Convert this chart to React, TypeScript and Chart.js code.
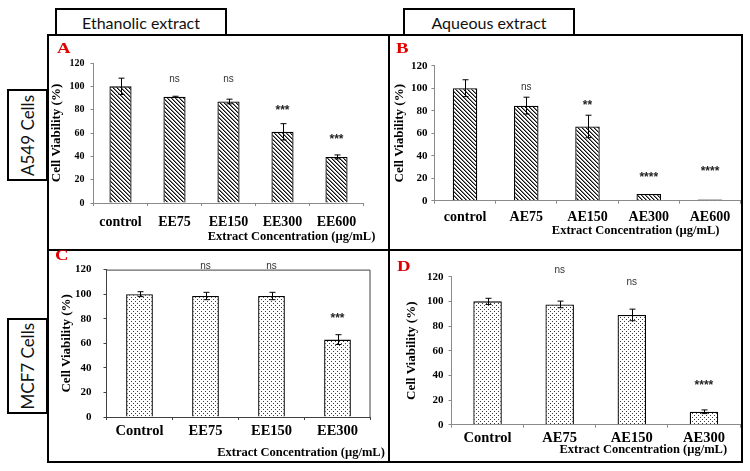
import React, { useEffect, useRef } from "react";
import { Chart, registerables } from "chart.js";

Chart.register(...registerables);

// ---------------- Data ----------------
// Panel A: A549 cells, ethanolic extract
const categoriesA = ["control", "EE75", "EE150", "EE300", "EE600"];
const viabilityA = [100, 91, 87, 61, 39.5];
const errorA = [7, 0.5, 2, 7, 1.7];
const signifA = ["", "ns", "ns", "***", "***"];
const signifLevelA = [0, 106.3, 106.3, 82, 57.7];

// Panel B: A549 cells, aqueous extract
const categoriesB = ["control", "AE75", "AE150", "AE300", "AE600"];
const viabilityB = [100, 84.5, 66, 6, 1];
const errorB = [7.5, 7.5, 10, 0, 0];
const signifB = ["", "ns", "**", "****", "****"];
const signifLevelB = [0, 100.8, 88, 23.5, 28.8];

// Panel C: MCF7 cells, ethanolic extract
const categoriesC = ["Control", "EE75", "EE150", "EE300"];
const viabilityC = [100, 98.5, 98.5, 63];
const errorC = [2, 3, 3, 4];
const signifC = ["", "ns", "ns", "***"];
const signifLevelC = [0, 123, 123, 83];

// Panel D: MCF7 cells, aqueous extract
const categoriesD = ["Control", "AE75", "AE150", "AE300"];
const viabilityD = [100, 97.5, 89, 10.5];
const errorD = [2.5, 2.7, 4.7, 1.5];
const signifD = ["", "ns", "ns", "****"];
const signifLevelD = [0, 124.9, 115.5, 34.9];

const yMin = 0;
const yMax = 120;
const yStep = 20;
const yAxisTitle = "Cell Viability (%)";
const xAxisTitle = "Extract Concentration (µg/mL)";
const columnTitles = ["Ethanolic extract", "Aqueous extract"];
const rowTitles = ["A549 Cells", "MCF7 Cells"];
const panelLetters = ["A", "B", "C", "D"];

// ---------------- Styling helpers ----------------
const SERIF = "'Liberation Serif', 'Times New Roman', serif";
const SANS = "'Liberation Sans', Arial, sans-serif";
const LABEL_FONT = "Lato, 'Open Sans', sans-serif";

function makeHatch(): CanvasPattern | string {
  const s = 4;
  const c = document.createElement("canvas");
  c.width = s;
  c.height = s;
  const ctx = c.getContext("2d");
  if (!ctx) return "#888";
  const img = ctx.createImageData(s, s);
  for (let y = 0; y < s; y++) {
    for (let x = 0; x < s; x++) {
      const d = (((x - y) % s) + s) % s;
      const v = d === 0 ? 15 : d === 1 ? 130 : 255;
      const i = (y * s + x) * 4;
      img.data[i] = v;
      img.data[i + 1] = v;
      img.data[i + 2] = v;
      img.data[i + 3] = 255;
    }
  }
  ctx.putImageData(img, 0, 0);
  return ctx.createPattern(c, "repeat") || "#888";
}

function makeDots(): CanvasPattern | string {
  const s = 4;
  const c = document.createElement("canvas");
  c.width = s;
  c.height = s;
  const ctx = c.getContext("2d");
  if (!ctx) return "#ccc";
  const img = ctx.createImageData(s, s);
  for (let y = 0; y < s; y++) {
    for (let x = 0; x < s; x++) {
      let v = 255;
      if ((x === 0 && y === 0) || (x === 2 && y === 2)) v = 60;
      const i = (y * s + x) * 4;
      img.data[i] = v;
      img.data[i + 1] = v;
      img.data[i + 2] = v;
      img.data[i + 3] = 255;
    }
  }
  ctx.putImageData(img, 0, 0);
  return ctx.createPattern(c, "repeat") || "#ccc";
}

const extrasPlugin = {
  id: "panelExtras",
  beforeDatasetsDraw(chart: any, _a: any, opts: any) {
    if (!opts.box) return;
    const { ctx, chartArea } = chart;
    ctx.save();
    ctx.strokeStyle = opts.axisColor;
    ctx.lineWidth = 1;
    ctx.beginPath();
    ctx.moveTo(chartArea.left, chartArea.top + 0.5);
    ctx.lineTo(chartArea.right - 0.5, chartArea.top + 0.5);
    ctx.lineTo(chartArea.right - 0.5, chartArea.bottom);
    ctx.stroke();
    ctx.restore();
  },
  afterDatasetsDraw(chart: any, _a: any, opts: any) {
    const { ctx, chartArea } = chart;
    const yScale = chart.scales.y;
    const meta = chart.getDatasetMeta(0);
    const values: number[] = chart.data.datasets[0].data;
    ctx.save();
    // error bars
    ctx.strokeStyle = "#000";
    ctx.lineWidth = 1;
    meta.data.forEach((bar: any, i: number) => {
      const e = opts.errors[i];
      if (!e) return;
      const x = Math.round(bar.x) + 0.5;
      const yTop = yScale.getPixelForValue(values[i] + e);
      const yBot = yScale.getPixelForValue(values[i] - e);
      const cap = 3;
      ctx.beginPath();
      ctx.moveTo(x, yTop);
      ctx.lineTo(x, yBot);
      ctx.moveTo(x - cap, yTop);
      ctx.lineTo(x + cap, yTop);
      ctx.moveTo(x - cap, yBot);
      ctx.lineTo(x + cap, yBot);
      ctx.stroke();
    });
    // significance labels
    ctx.textAlign = "center";
    ctx.textBaseline = "alphabetic";
    meta.data.forEach((bar: any, i: number) => {
      const s: string = opts.signif[i];
      if (!s) return;
      const star = s.startsWith("*");
      const size = star ? 12 : 10;
      ctx.font = `${star ? "bold " : ""}${size}px ${SANS}`;
      ctx.fillStyle = star ? "#222" : "#333";
      const py = yScale.getPixelForValue(opts.signifLevels[i]);
      ctx.fillText(s, bar.x, py + (star ? 0.58 : 0.27) * size);
    });
    // x axis title
    ctx.font = `bold 12.5px ${SERIF}`;
    ctx.fillStyle = "#000";
    ctx.textBaseline = "middle";
    ctx.fillText(opts.xTitle, chartArea.right + opts.titleDx, chartArea.bottom + opts.titleDy);
    ctx.restore();
  },
};

type PanelSpec = {
  labels: string[];
  values: number[];
  errors: number[];
  signif: string[];
  signifLevels: number[];
  pattern: "hatch" | "dots";
  cell: { x: number; y: number; w: number; h: number };
  pad: { left: number; right: number; top: number; bottom: number };
  yWidth: number;
  xHeight: number;
  barFrac: number;
  xTickSize: number;
  xTickPad: number;
  yTickSize: number;
  yTickPad: number;
  axisColor: string;
  box: boolean;
  titleDx: number;
  titleDy: number;
};

const panels: PanelSpec[] = [
  {
    labels: categoriesA, values: viabilityA, errors: errorA, signif: signifA, signifLevels: signifLevelA,
    pattern: "hatch",
    cell: { x: 49, y: 36, w: 339, h: 213 },
    pad: { left: 0.2, right: 24.5, top: 27, bottom: 16 },
    yWidth: 44.3, xHeight: 30, barFrac: 0.41,
    xTickSize: 14, xTickPad: 7.5, yTickSize: 10, yTickPad: 6,
    axisColor: "#8a8a8a", box: false, titleDx: -72, titleDy: 34,
  },
  {
    labels: categoriesB, values: viabilityB, errors: errorB, signif: signifB, signifLevels: signifLevelB,
    pattern: "hatch",
    cell: { x: 390, y: 36, w: 351, h: 213 },
    pad: { left: 2.2, right: 0.4, top: 29.7, bottom: 18.3 },
    yWidth: 42.2, xHeight: 30, barFrac: 0.4,
    xTickSize: 14, xTickPad: 5, yTickSize: 11, yTickPad: 4,
    axisColor: "#8a8a8a", box: false, titleDx: -105, titleDy: 30,
  },
  {
    labels: categoriesC, values: viabilityC, errors: errorC, signif: signifC, signifLevels: signifLevelC,
    pattern: "dots",
    cell: { x: 49, y: 251, w: 339, h: 212 },
    pad: { left: 9.9, right: 17.5, top: 16, bottom: 16 },
    yWidth: 47.6, xHeight: 30, barFrac: 0.405,
    xTickSize: 14.5, xTickPad: 3, yTickSize: 11, yTickPad: 12,
    axisColor: "#404040", box: true, titleDx: -69.5, titleDy: 35.7,
  },
  {
    labels: categoriesD, values: viabilityD, errors: errorD, signif: signifD, signifLevels: signifLevelD,
    pattern: "dots",
    cell: { x: 390, y: 251, w: 351, h: 212 },
    pad: { left: 13.9, right: 1, top: 25.7, bottom: 8.3 },
    yWidth: 47.6, xHeight: 30, barFrac: 0.395,
    xTickSize: 14.5, xTickPad: 2, yTickSize: 11, yTickPad: 5,
    axisColor: "#8a8a8a", box: false, titleDx: -96.7, titleDy: 24.6,
  },
];

function Panel({ spec }: { spec: PanelSpec }) {
  const ref = useRef<HTMLCanvasElement | null>(null);
  useEffect(() => {
    if (!ref.current) return;
    const fill = spec.pattern === "hatch" ? makeHatch() : makeDots();
    const chart = new Chart(ref.current, {
      type: "bar",
      data: {
        labels: spec.labels,
        datasets: [
          {
            data: spec.values,
            backgroundColor: fill as any,
            borderColor: "#000",
            borderWidth: 1.3,
            barPercentage: spec.barFrac,
            categoryPercentage: 1,
          },
        ],
      },
      options: {
        responsive: false,
        animation: false,
        events: [],
        layout: { padding: spec.pad },
        plugins: {
          legend: { display: false },
          tooltip: { enabled: false },
          panelExtras: {
            errors: spec.errors,
            signif: spec.signif,
            signifLevels: spec.signifLevels,
            xTitle: xAxisTitle,
            titleDx: spec.titleDx,
            titleDy: spec.titleDy,
            box: spec.box,
            axisColor: spec.axisColor,
          },
        } as any,
        scales: {
          x: {
            offset: true,
            grid: {
              display: true,
              drawOnChartArea: false,
              drawTicks: true,
              tickLength: 3,
              color: spec.axisColor,
              offset: true,
            },
            border: { display: true, color: spec.axisColor, width: 1 },
            ticks: {
              font: { family: SERIF, size: spec.xTickSize, weight: "bold" },
              color: "#000",
              padding: spec.xTickPad,
              maxRotation: 0,
              autoSkip: false,
            },
            afterFit: (s: any) => {
              s.height = spec.xHeight;
            },
          },
          y: {
            min: yMin,
            max: yMax,
            ticks: {
              stepSize: yStep,
              font: { family: SERIF, size: spec.yTickSize, weight: "bold" },
              color: "#000",
              padding: spec.yTickPad,
            },
            grid: {
              display: true,
              drawOnChartArea: false,
              drawTicks: true,
              tickLength: 3,
              color: spec.axisColor,
            },
            border: { display: true, color: spec.axisColor, width: 1 },
            title: {
              display: true,
              text: yAxisTitle,
              font: { family: SERIF, size: 13, weight: "bold" },
              color: "#000",
              padding: 0,
            },
            afterFit: (s: any) => {
              s.width = spec.yWidth;
            },
          },
        },
      },
      plugins: [extrasPlugin as any],
    });
    return () => chart.destroy();
  }, [spec]);
  return (
    <canvas
      ref={ref}
      width={spec.cell.w}
      height={spec.cell.h}
      style={{ position: "absolute", left: spec.cell.x, top: spec.cell.y, width: spec.cell.w, height: spec.cell.h }}
    />
  );
}

const line = (x: number, y: number, w: number, h: number): React.CSSProperties => ({
  position: "absolute", left: x, top: y, width: w, height: h, background: "#000",
});

const boxStyle = (x: number, y: number, w: number, h: number): React.CSSProperties => ({
  position: "absolute", left: x, top: y, width: w, height: h, border: "2px solid #000",
  boxSizing: "border-box", background: "#fff", display: "flex", alignItems: "center",
  justifyContent: "center", fontFamily: LABEL_FONT, fontSize: 16, color: "#111",
});

const letterPos = [
  { x: 57.3, y: 40.7 },
  { x: 396, y: 40.7 },
  { x: 55, y: 248.1 },
  { x: 396.7, y: 259.1 },
];

export default function App() {
  return (
    <div style={{ position: "absolute", left: 0, top: 0, width: 750, height: 471, background: "#fff", overflow: "hidden" }}>
      {/* outer frame */}
      <div style={line(47, 34, 696, 2)} />
      <div style={line(47, 461, 696, 2)} />
      <div style={line(47, 34, 2, 429)} />
      <div style={line(741, 34, 2, 429)} />
      <div style={line(388, 34, 2, 429)} />
      <div style={line(47, 249, 696, 2)} />
      {/* column headers */}
      <div style={boxStyle(55, 8, 172, 28)}>{columnTitles[0]}</div>
      <div style={boxStyle(403, 8, 172, 28)}>{columnTitles[1]}</div>
      {/* row headers */}
      <div style={boxStyle(7, 89, 41, 92)}>
        <span style={{ writingMode: "vertical-rl", transform: "rotate(180deg)", fontSize: 17 }}>{rowTitles[0]}</span>
      </div>
      <div style={boxStyle(7, 318, 41, 96)}>
        <span style={{ writingMode: "vertical-rl", transform: "rotate(180deg)", fontSize: 17 }}>{rowTitles[1]}</span>
      </div>
      {panels.map((p, i) => (
        <Panel key={i} spec={p} />
      ))}
      {panelLetters.map((l, i) => (
        <div
          key={l}
          style={{
            position: "absolute", left: letterPos[i].x, top: letterPos[i].y, fontFamily: SERIF,
            fontWeight: "bold", fontSize: 15, lineHeight: 1, color: "#e00000",
            transform: "scaleX(1.25)", transformOrigin: "left top",
          }}
        >
          {l}
        </div>
      ))}
    </div>
  );
}
